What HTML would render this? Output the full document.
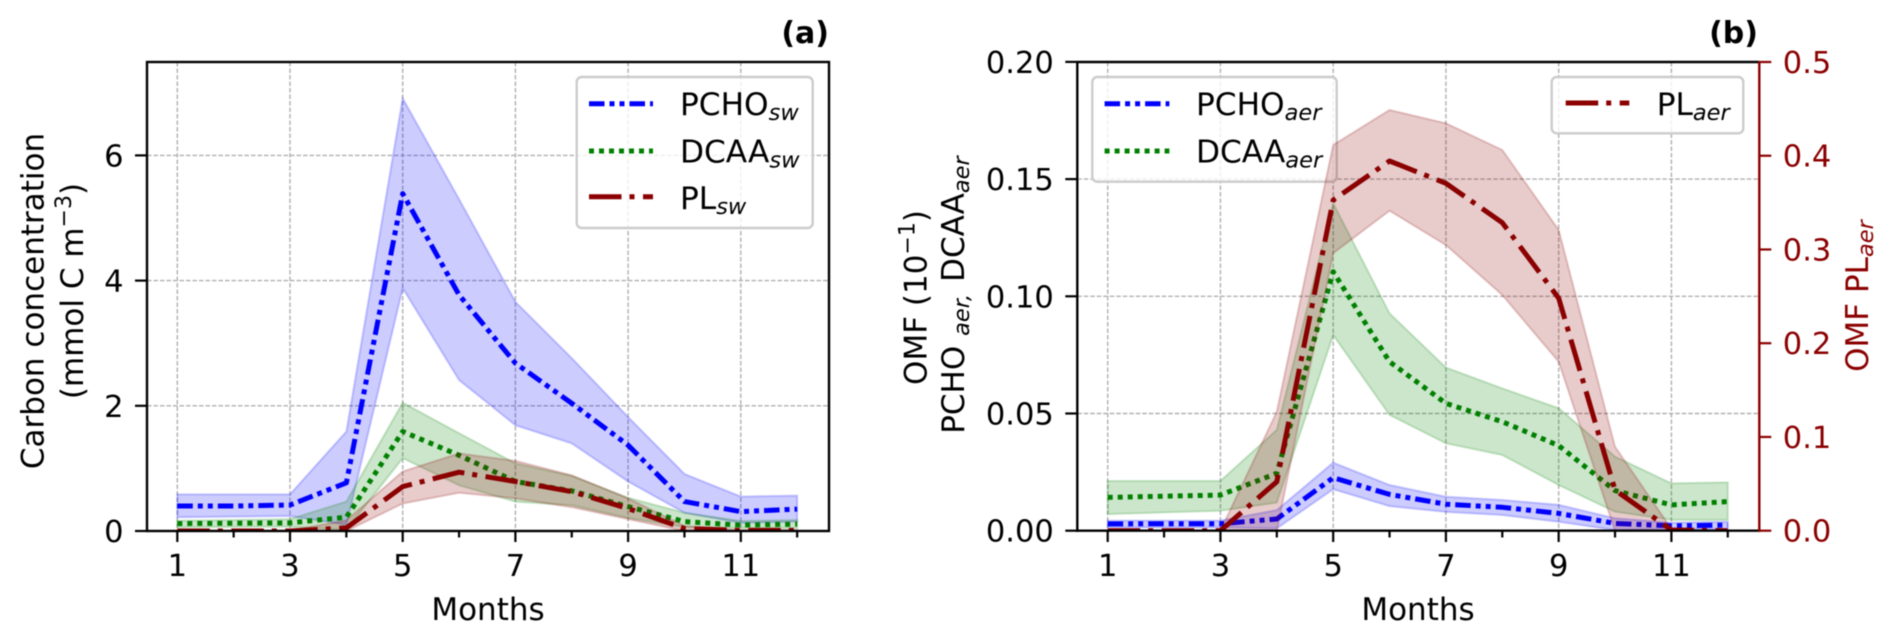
<!DOCTYPE html>
<html lang="en">
<head>
<meta charset="utf-8">
<title>Carbon concentration and OMF by month</title>
<style>
html,body{margin:0;padding:0;background:#fff;width:1892px;height:640px;overflow:hidden}
svg{display:block;font-family:"DejaVu Sans","Liberation Sans",sans-serif;filter:blur(0.4px)}
.tick{font-size:30.5px;fill:#000}
.lab{font-size:31px;fill:#000}
.leg{font-size:31.2px;fill:#000}
.sub{font-size:22.5px;font-style:italic}
.red{fill:#8b0000}
</style>
</head>
<body>
<svg id="figure" width="1892" height="640" viewBox="0 0 1892 640" xmlns="http://www.w3.org/2000/svg">
  <defs>
    <clipPath id="clip-a"><rect x="147" y="62" width="682" height="469"/></clipPath>
    <clipPath id="clip-b"><rect x="1077.3" y="62" width="682" height="469"/></clipPath>
  </defs>
  <g id="panel-a">
    <g id="a-grid"></g>
    <g id="a-marks" clip-path="url(#clip-a)"></g>
    <g id="a-ticks"></g>
    <rect x="147" y="62" width="682" height="469" fill="none" stroke="#000" stroke-width="2.4"/>
    <text x="829" y="43" text-anchor="end" font-size="30" font-weight="bold">(a)</text>
    <text class="lab" x="488" y="620" text-anchor="middle">Months</text>
    <text class="lab" text-anchor="middle" transform="translate(43.5 301) rotate(-90)">Carbon concentration</text>
    <text class="lab" text-anchor="middle" transform="translate(83 291) rotate(-90)">(mmol C m<tspan font-size="22" dy="-12">−3</tspan><tspan dy="12">)</tspan></text>
    <g>
      <rect x="576.7" y="77" width="236" height="151" rx="5" fill="#fff" fill-opacity="0.8" stroke="#ccc" stroke-width="2.4"/>
      <line x1="589" x2="653" y1="103.7" y2="103.7" stroke="#0000ff" stroke-width="5" stroke-dasharray="15.5 5 5 5 5 5"/>
      <text class="leg" x="680" y="115">PCHO<tspan class="sub" dy="5">sw</tspan></text>
      <line x1="589" x2="653" y1="151" y2="151" stroke="#008000" stroke-width="5" stroke-dasharray="5 5"/>
      <text class="leg" x="680" y="162.3">DCAA<tspan class="sub" dy="5">sw</tspan></text>
      <line x1="589" x2="653" y1="196.7" y2="196.7" stroke="#8b0000" stroke-width="5" stroke-dasharray="32.5 8 5 8.5"/>
      <text class="leg" x="680" y="209">PL<tspan class="sub" dy="5">sw</tspan></text>
    </g>
  </g>
  <g id="panel-b">
    <g id="b-grid"></g>
    <g id="b-marks-left" clip-path="url(#clip-b)"></g>
    <g>
      <rect x="1092.3" y="77" width="244.4" height="104.7" rx="5" fill="#fff" fill-opacity="0.8" stroke="#ccc" stroke-width="2.4"/>
      <line x1="1104.6" x2="1169.4" y1="103.7" y2="103.7" stroke="#0000ff" stroke-width="5" stroke-dasharray="15.5 5 5 5 5 5"/>
      <text class="leg" x="1196" y="115">PCHO<tspan class="sub" dy="5">aer</tspan></text>
      <line x1="1104.6" x2="1169.4" y1="151" y2="151" stroke="#008000" stroke-width="5" stroke-dasharray="5 5"/>
      <text class="leg" x="1196" y="162.3">DCAA<tspan class="sub" dy="5">aer</tspan></text>
    </g>
    <g id="b-marks-right" clip-path="url(#clip-b)"></g>
    <g id="b-ticks"></g>
    <line x1="1077.3" x2="1077.3" y1="61" y2="532" stroke="#000" stroke-width="2.4"/>
    <line x1="1077.3" x2="1759.3" y1="62" y2="62" stroke="#000" stroke-width="2.4"/>
    <line x1="1077.3" x2="1759.3" y1="530.7" y2="530.7" stroke="#000" stroke-width="2.4"/>
    <line x1="1759.3" x2="1759.3" y1="61" y2="532" stroke="#8b0000" stroke-width="2.4"/>
    <text x="1758" y="43" text-anchor="end" font-size="30" font-weight="bold">(b)</text>
    <text class="lab" x="1418" y="620" text-anchor="middle">Months</text>
    <text class="lab" text-anchor="middle" transform="translate(926.7 297.5) rotate(-90)">OMF (10<tspan font-size="22" dy="-12">−1</tspan><tspan dy="12">)</tspan></text>
    <text class="lab" text-anchor="middle" transform="translate(964 295) rotate(-90)">PCHO <tspan class="sub" dy="5">aer,</tspan><tspan dx="12" dy="-5">DCAA</tspan><tspan class="sub" dy="5">aer</tspan></text>
    <text class="lab red" text-anchor="middle" transform="translate(1868 296) rotate(-90)">OMF PL<tspan class="sub" dy="5">aer</tspan></text>
    <g>
      <rect x="1551.7" y="77" width="191.6" height="56.3" rx="5" fill="#fff" fill-opacity="0.8" stroke="#ccc" stroke-width="2.4"/>
      <line x1="1565.7" x2="1629.3" y1="103" y2="103" stroke="#8b0000" stroke-width="5" stroke-dasharray="32.5 8 5 8.5"/>
      <text class="leg" x="1656.7" y="115">PL<tspan class="sub" dy="5">aer</tspan></text>
    </g>
  </g>
</svg>
<script>
const months = [1,2,3,4,5,6,7,8,9,10,11,12];
const xTickMonths = [1,2,3,4,5,6,7,8,9,10,11,12];
const xTickLabels = ["1","","3","","5","","7","","9","","11",""];
const aYTicks = [0,2,4,6];
const aYTickLabels = ["0","2","4","6"];
const bLeftTicks = [0,0.05,0.10,0.15,0.20];
const bLeftTickLabels = ["0.00","0.05","0.10","0.15","0.20"];
const bRightTicks = [0,0.1,0.2,0.3,0.4,0.5];
const bRightTickLabels = ["0.0","0.1","0.2","0.3","0.4","0.5"];

const aPchoMean  = [0.40,0.40,0.415,0.77,5.39,3.77,2.68,2.04,1.37,0.47,0.31,0.35];
const aPchoUpper = [0.585,0.585,0.585,1.59,6.91,5.30,3.66,2.76,1.82,0.91,0.55,0.565];
const aPchoLower = [0.22,0.23,0.24,0.10,3.88,2.41,1.69,1.40,0.79,0.29,0.13,0.15];
const aDcaaMean  = [0.12,0.125,0.13,0.22,1.59,1.21,0.79,0.64,0.39,0.15,0.095,0.11];
const aDcaaUpper = [0.165,0.175,0.19,0.47,2.05,1.56,1.08,0.88,0.53,0.29,0.16,0.175];
const aDcaaLower = [0.06,0.065,0.07,0.02,1.165,0.73,0.47,0.41,0.21,0.06,0.05,0.05];
const aPlMean    = [0,0,0,0.05,0.71,0.94,0.79,0.63,0.36,0.04,0.01,0.01];
const aPlUpper   = [0.01,0.01,0.01,0.17,0.95,1.24,1.12,0.89,0.52,0.08,0.02,0.02];
const aPlLower   = [0,0,0,0,0.44,0.61,0.52,0.38,0.19,0,0,0];

const bPchoMean  = [0.0029,0.0030,0.0030,0.0050,0.0226,0.0155,0.0113,0.0100,0.0074,0.0031,0.0021,0.0024];
const bPchoUpper = [0.0043,0.0043,0.0043,0.0088,0.0290,0.0195,0.0145,0.0131,0.0110,0.0053,0.0034,0.0038];
const bPchoLower = [0.0014,0.0014,0.0014,0.0010,0.0177,0.0105,0.0080,0.0067,0.0038,0.0003,0.0008,0.0007];
const bDcaaMean  = [0.0142,0.0147,0.0152,0.0245,0.1105,0.0721,0.0543,0.0465,0.0363,0.0171,0.0110,0.0124];
const bDcaaUpper = [0.0212,0.0212,0.0212,0.0430,0.1397,0.0927,0.0696,0.0607,0.0522,0.0316,0.0202,0.0206];
const bDcaaLower = [0.0071,0.0078,0.0085,0.0120,0.0835,0.0494,0.0373,0.0323,0.0195,0.0081,0.0046,0.0046];
const bPlMean    = [0,0,0,0.0523,0.3528,0.3944,0.3706,0.3286,0.2480,0.0434,0.0007,0];
const bPlUpper   = [0,0,0,0.127,0.4115,0.4488,0.4346,0.4061,0.3208,0.0896,0.002,0];
const bPlLower   = [0,0,0,0,0.296,0.3414,0.3048,0.2514,0.1803,0,0,0];

const SVG_NS = "http://www.w3.org/2000/svg";
const xA = m => 177.3 + (m - 1) * 56.35;
const yA = v => 531 - v * 62.6;
const xB = m => 1107.7 + (m - 1) * 56.37;
const yBL = v => 530.7 - v * 2344;
const yBR = v => 530.7 - v * 937.4;

function make(tag, attrs, parent) {
  const el = document.createElementNS(SVG_NS, tag);
  for (const k in attrs) el.setAttribute(k, attrs[k]);
  parent.appendChild(el);
  return el;
}
function drawSeries(parent, xf, yf, mean, upper, lower, color, dash, name) {
  const pts = [];
  months.forEach((m, i) => pts.push(xf(m).toFixed(1) + "," + yf(upper[i]).toFixed(1)));
  for (let i = months.length - 1; i >= 0; i--) pts.push(xf(months[i]).toFixed(1) + "," + yf(lower[i]).toFixed(1));
  const band = make("polygon", {points: pts.join(" "), fill: color, "fill-opacity": 0.2, stroke: color, "stroke-opacity": 0.2, "stroke-width": 2}, parent);
  
  
  const linePts = months.map((m, i) => xf(m).toFixed(1) + "," + yf(mean[i]).toFixed(1)).join(" ");
  const line = make("polyline", {points: linePts, fill: "none", stroke: color, "stroke-width": 5, "stroke-dasharray": dash, "stroke-linejoin": "round"}, parent);
  
  
}
function drawVerticalGrid(parent, xf) {
  xTickMonths.forEach((m, i) => {
    if (!xTickLabels[i]) return;
    const g = make("line", {x1: xf(m), x2: xf(m), y1: 62, y2: 531, stroke: "#b0b0b0", "stroke-width": 1.4, "stroke-dasharray": "4.5 2"}, parent);
    
    
  });
}
function drawHorizontalGrid(parent, ticks, yf, x1, x2) {
  ticks.forEach(v => {
    const g = make("line", {x1: x1, x2: x2, y1: yf(v), y2: yf(v), stroke: "#b0b0b0", "stroke-width": 1.4, "stroke-dasharray": "4.5 2"}, parent);
    
    
  });
}
function drawXTicks(parent, xf) {
  xTickMonths.forEach((m, i) => {
    const major = !!xTickLabels[i];
    const t = make("line", {x1: xf(m), x2: xf(m), y1: 531, y2: major ? 542 : 537.5, stroke: "#000", "stroke-width": 2.2}, parent);
    
    
    if (major) {
      const l = make("text", {x: xf(m), y: 576, "text-anchor": "middle", class: "tick"}, parent);
      l.textContent = xTickLabels[i];
      
      
    }
  });
}
function drawYTicks(parent, ticks, labels, yf, spineX, dir, color) {
  ticks.forEach((v, i) => {
    const t = make("line", {x1: spineX, x2: spineX + dir * 12, y1: yf(v), y2: yf(v), stroke: color, "stroke-width": 2.2}, parent);
    
    
    const l = make("text", {x: spineX + dir * 23.5, y: yf(v) + 11, "text-anchor": dir < 0 ? "end" : "start", class: "tick", style: "fill:" + color}, parent);
    l.textContent = labels[i];
    
    
  });
}

const PCHO_DASH = "15.5 5 5 5 5 5";
const DCAA_DASH = "5 5";
const PL_DASH = "32.5 8 5 8.5";
const aGrid = document.getElementById("a-grid");
const aMarks = document.getElementById("a-marks");
const aTicks = document.getElementById("a-ticks");
const bGrid = document.getElementById("b-grid");
const bLeft = document.getElementById("b-marks-left");
const bRight = document.getElementById("b-marks-right");
const bTicks = document.getElementById("b-ticks");

drawVerticalGrid(aGrid, xA);
drawHorizontalGrid(aGrid, aYTicks, yA, 147, 829);
drawSeries(aMarks, xA, yA, aPchoMean, aPchoUpper, aPchoLower, "#0000ff", PCHO_DASH, "pcho-sw");
drawSeries(aMarks, xA, yA, aDcaaMean, aDcaaUpper, aDcaaLower, "#008000", DCAA_DASH, "dcaa-sw");
drawSeries(aMarks, xA, yA, aPlMean, aPlUpper, aPlLower, "#8b0000", PL_DASH, "pl-sw");
drawXTicks(aTicks, xA);
drawYTicks(aTicks, aYTicks, aYTickLabels, yA, 147, -1, "#000");

drawVerticalGrid(bGrid, xB);
drawHorizontalGrid(bGrid, bLeftTicks, yBL, 1077.3, 1759.3);
drawSeries(bLeft, xB, yBL, bPchoMean, bPchoUpper, bPchoLower, "#0000ff", PCHO_DASH, "pcho-aer");
drawSeries(bLeft, xB, yBL, bDcaaMean, bDcaaUpper, bDcaaLower, "#008000", DCAA_DASH, "dcaa-aer");
drawSeries(bRight, xB, yBR, bPlMean, bPlUpper, bPlLower, "#8b0000", PL_DASH, "pl-aer");
drawXTicks(bTicks, xB);
drawYTicks(bTicks, bLeftTicks, bLeftTickLabels, yBL, 1077.3, -1, "#000");
drawYTicks(bTicks, bRightTicks, bRightTickLabels, yBR, 1759.3, 1, "#8b0000");
</script>
</body>
</html>
